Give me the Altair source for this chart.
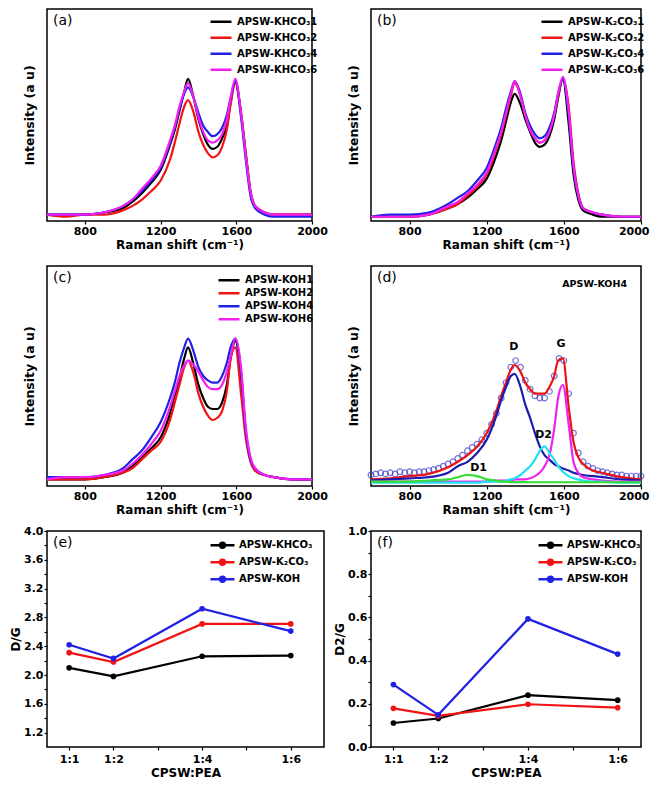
import altair as alt
import pandas as pd

FONT = "DejaVu Sans"

# ---------------- Raman spectra (x grid in cm^-1, intensity in % of plot height)
raman_x = [600, 700, 800, 900, 1000, 1050, 1100, 1150, 1200, 1250, 1275, 1300, 1325, 1345, 1375, 1400,
           1425, 1450, 1475, 1500, 1525, 1550, 1570, 1595, 1625, 1650, 1675, 1700, 1750, 1800, 1900, 2000]

a_names = ["APSW-KHCO₃1", "APSW-KHCO₃2", "APSW-KHCO₃4", "APSW-KHCO₃6"]
a_1 = [3, 3, 3, 4, 6, 9, 13, 18, 24, 36, 43, 52, 61, 67, 58, 48, 41, 36, 34, 35, 39, 45, 56, 66, 51, 32, 14, 7, 4, 3, 3, 3]
a_2 = [3, 2, 3, 3, 5, 7, 10, 14, 19, 29, 37, 46, 54, 57, 51, 42, 36, 32, 30, 31, 35, 43, 55, 65, 51, 32, 14, 7, 4, 3, 3, 3]
a_4 = [3, 3, 3, 4, 7, 10, 14, 19, 25, 37, 44, 53, 60, 63, 58, 51, 45, 42, 40, 41, 44, 50, 58, 66, 49, 29, 12, 6, 3, 2, 2, 2]
a_6 = [3, 3, 3, 4, 7, 10, 15, 20, 26, 38, 45, 54, 61, 65, 58, 49, 42, 38, 37, 38, 41, 48, 58, 67, 51, 31, 14, 7, 4, 3, 3, 3]

b_names = ["APSW-K₂CO₃1", "APSW-K₂CO₃2", "APSW-K₂CO₃4", "APSW-K₂CO₃6"]
b_1 = [2, 2, 2, 3, 6, 8, 11, 15, 20, 31, 38, 47, 56, 60, 55, 48, 42, 37, 35, 36, 40, 48, 58, 67, 46, 22, 10, 5, 3, 2, 2, 2]
b_2 = [2, 2, 2, 3, 6, 8, 12, 16, 22, 34, 41, 50, 59, 65, 59, 50, 43, 39, 37, 38, 42, 50, 59, 67, 54, 28, 13, 6, 4, 3, 2, 2]
b_4 = [2, 3, 3, 4, 8, 11, 14, 19, 25, 37, 44, 53, 61, 66, 60, 51, 45, 41, 39, 40, 44, 51, 60, 67, 50, 25, 12, 6, 4, 3, 2, 2]
b_6 = [2, 2, 2, 3, 7, 9, 13, 17, 23, 35, 42, 51, 60, 66, 59, 50, 43, 39, 37, 38, 42, 50, 60, 68, 52, 26, 12, 6, 4, 3, 2, 2]

c_names = ["APSW-KOH1", "APSW-KOH2", "APSW-KOH4", "APSW-KOH6"]
c_1 = [3, 3, 3, 4, 6, 9, 13, 17, 22, 33, 41, 49, 58, 63, 55, 46, 40, 36, 35, 35, 38, 46, 58, 66, 50, 24, 12, 7, 5, 4, 3, 3]
c_2 = [3, 3, 3, 4, 6, 8, 12, 16, 20, 30, 38, 46, 54, 57, 51, 42, 36, 32, 30, 31, 34, 43, 58, 63, 42, 22, 11, 7, 5, 4, 3, 3]
c_4 = [4, 4, 4, 5, 8, 12, 16, 22, 29, 40, 47, 56, 63, 67, 61, 54, 50, 48, 47, 47, 50, 56, 63, 67, 52, 25, 12, 8, 5, 4, 3, 3]
c_6 = [3, 4, 4, 5, 7, 10, 14, 19, 25, 36, 43, 50, 55, 57, 55, 52, 48, 45, 44, 44, 46, 52, 59, 67, 54, 27, 13, 8, 5, 4, 3, 3]

# ---------------- (d) peak fitting of APSW-KOH4
d_data_x = [600, 625, 650, 675, 700, 725, 750, 775, 800, 825, 850, 875, 900, 925, 950, 975, 1000, 1025,
            1050, 1075, 1100, 1125, 1150, 1175, 1200, 1225, 1250, 1275, 1300, 1325, 1350, 1375, 1400,
            1425, 1450, 1475, 1500, 1525, 1550, 1575, 1600, 1625, 1650, 1675, 1700, 1725, 1750, 1775,
            1800, 1825, 1850, 1875, 1900, 1925, 1950, 1975, 2000]
d_data = [5, 5.5, 6, 5.5, 6, 5.5, 6.5, 6, 6.5, 6, 6.5, 6.5, 7, 7.5, 8, 9, 10, 11, 12.5, 14, 16, 17.5, 19,
          21, 24, 28, 33, 40, 47, 54, 57, 54, 48, 44, 41, 40, 40, 43, 50, 58, 57, 42, 24, 15, 11, 9, 8, 7,
          6.5, 6, 5.5, 5, 5, 4.5, 4.5, 4.5, 4.5]
d_names = ["Fit", "D", "G", "D2", "D1"]
d_fit = [3, 3.5, 4.5, 5.5, 8.5, 11, 14, 18, 24, 34, 41, 47, 53, 55, 52, 47, 44, 42, 42, 42, 45, 50, 57, 58, 36, 20, 13, 10, 7, 6, 4, 3]
d_D = [2.5, 3, 3.5, 4, 6, 9, 11, 15, 21, 32, 39, 45, 50, 51, 45, 37, 31, 24, 18, 14, 12, 10, 9, 8, 7, 6, 5.5, 5, 4.5, 4, 3, 2.5]
d_G = [2, 2, 2, 2, 2, 2, 2, 2, 2, 2.5, 2.5, 2.5, 2.5, 3, 3, 3, 3.5, 4.5, 6, 9, 14, 26, 40, 46, 28, 11, 6, 4, 3, 2.5, 2, 2]
d_D2 = [1.5, 1.5, 1.5, 1.5, 1.5, 1.5, 1.5, 1.5, 2, 2, 2, 2.5, 3, 3.5, 5, 7, 9, 12, 16, 18, 15, 12, 9, 6.5, 4.5, 3.5, 3, 2.5, 2, 2, 1.5, 1.5]
d_D1 = [2, 2, 2, 2.5, 3, 4, 5, 4.5, 3, 2.5, 2, 2, 1.8, 1.8, 1.8, 1.8, 1.7, 1.7, 1.7, 1.7, 1.7, 1.7, 1.7, 1.7, 1.7, 1.7, 1.7, 1.7, 1.7, 1.7, 1.7, 1.7]
d_label_text = ["D", "G", "D2", "D1"]
d_label_x = [1340, 1585, 1495, 1158]
d_label_y = [63, 64.5, 23, 8]

# ---------------- (e), (f) intensity ratios
ratio_x = [1, 2, 4, 6]
ratio_names = ["APSW-KHCO₃", "APSW-K₂CO₃", "APSW-KOH"]
e_khco3 = [2.10, 1.98, 2.26, 2.27]
e_k2co3 = [2.31, 2.18, 2.71, 2.71]
e_koh = [2.42, 2.23, 2.92, 2.61]
f_khco3 = [0.111, 0.132, 0.240, 0.217]
f_k2co3 = [0.179, 0.144, 0.198, 0.182]
f_koh = [0.289, 0.149, 0.593, 0.430]

C4 = ["#000000", "#f01414", "#2020e6", "#f51ef5"]
C3 = ["#000000", "#f01414", "#2020e6"]


def long_df(x, names, series):
    recs = []
    for n, vals in zip(names, series):
        for xv, yv in zip(x, vals):
            recs.append({"x": xv, "v": yv, "series": n})
    return pd.DataFrame(recs)


def raman_x_enc(flush=False):
    ax = dict(values=[800, 1200, 1600, 2000], format="d", title="Raman shift (cm⁻¹)",
              tickSize=3, labelPadding=1, titlePadding=3)
    if flush:
        ax.update(labelFlush=True, labelFlushOffset=8)
    else:
        ax.update(labelFlush=False)
    return alt.X("x:Q", scale=alt.Scale(domain=[600, 2000], nice=False, zero=False), axis=alt.Axis(**ax))


def raman_y_enc():
    return alt.Y("v:Q", scale=alt.Scale(domain=[0, 100], nice=False),
                 axis=alt.Axis(title="Intensity (a u)", labels=False, ticks=False, titlePadding=11,
                               titleFontSize=12.5))


def tag_layer(tag):
    return alt.Chart(pd.DataFrame({"t": [tag]})).mark_text(
        align="left", baseline="top", font=FONT, fontSize=14, color="black"
    ).encode(text="t:N", x=alt.value(6), y=alt.value(5))


def spectra_panel(names, series, tag, w, h, lx, ly, clip, flush):
    df = long_df(raman_x, names, series)
    lines = alt.Chart(df).mark_line(strokeWidth=2.2, interpolate="monotone").encode(
        x=raman_x_enc(flush), y=raman_y_enc(),
        color=alt.Color("series:N", sort=names, scale=alt.Scale(domain=names, range=C4),
                        legend=alt.Legend(orient="none", legendX=lx, legendY=ly, title=None,
                                          symbolType="stroke", symbolSize=440, symbolStrokeWidth=2.5,
                                          labelFont=FONT, labelFontSize=10, labelFontWeight="bold",
                                          labelColor="black", labelOffset=4, rowPadding=0,
                                          clipHeight=clip, padding=0)),
    )
    return alt.layer(lines, tag_layer(tag)).properties(width=w, height=h)


pa = spectra_panel(a_names, [a_1, a_2, a_4, a_6], "(a)", 265, 212, 162, 5, 15.3, False)
pb = spectra_panel(b_names, [b_1, b_2, b_4, b_6], "(b)", 270, 212, 169, 5, 15.3, True)
pc = spectra_panel(c_names, [c_1, c_2, c_4, c_6], "(c)", 265, 220, 170, 8, 12.5, False)

# panel d
d_pts_df = pd.DataFrame({"x": d_data_x, "v": d_data})
d_fit_df = long_df(raman_x, d_names, [d_fit, d_D, d_G, d_D2, d_D1])
d_lab_df = pd.DataFrame({"x": d_label_x, "v": d_label_y, "t": d_label_text})
d_pts = alt.Chart(d_pts_df).mark_point(shape="circle", filled=False, size=32, strokeWidth=1.2,
                                        color="#3838d0").encode(x=raman_x_enc(True), y=raman_y_enc())
d_lines = alt.Chart(d_fit_df).mark_line(strokeWidth=2.2, interpolate="monotone").encode(
    x=raman_x_enc(True), y=raman_y_enc(),
    color=alt.Color("series:N", sort=d_names,
                    scale=alt.Scale(domain=d_names, range=["#ee1111", "#1c1cb0", "#ee22ee", "#22e0f2", "#33dd33"]),
                    legend=None))
d_labels = alt.Chart(d_lab_df).mark_text(font=FONT, fontSize=11, fontWeight="bold", color="black",
                                          baseline="middle").encode(x=raman_x_enc(True), y=raman_y_enc(), text="t:N")
d_name = alt.Chart(pd.DataFrame({"t": ["APSW-KOH4"]})).mark_text(
    align="right", baseline="middle", font=FONT, fontSize=9.5, fontWeight="bold", color="black"
).encode(text="t:N", x=alt.value(256), y=alt.value(18))
pd_ = alt.layer(d_pts, d_lines, d_labels, d_name, tag_layer("(d)")).properties(width=270, height=220)

LINE_DOT = "M-1,0H1M-0.2,0A0.2,0.2,0,1,0,0.2,0A0.2,0.2,0,1,0,-0.2,0"


def ratio_panel(series, tag, ytitle, ydom, yvals, ylabexpr, xmax, w, h, lx):
    df = long_df(ratio_x, ratio_names, series)
    lines = alt.Chart(df).mark_line(strokeWidth=2.2, point=alt.OverlayMarkDef(filled=True, size=32)).encode(
        x=alt.X("x:Q", scale=alt.Scale(domain=[0.5, xmax], nice=False, zero=False),
                axis=alt.Axis(values=[1, 2, 3, 4, 5, 6], title="CPSW:PEA", labelFlush=False,
                              labelExpr="datum.value==1?'1:1':datum.value==2?'1:2':datum.value==4?'1:4':datum.value==6?'1:6':''",
                              tickSize=3, labelPadding=3, titlePadding=3)),
        y=alt.Y("v:Q", scale=alt.Scale(domain=ydom, nice=False, zero=False),
                axis=alt.Axis(values=yvals, title=ytitle, labelExpr=ylabexpr, labelFlush=False,
                              tickSize=3, labelPadding=1, titlePadding=1)),
        color=alt.Color("series:N", sort=ratio_names, scale=alt.Scale(domain=ratio_names, range=C3),
                        legend=alt.Legend(orient="none", legendX=lx, legendY=6, title=None,
                                          symbolType=LINE_DOT, symbolSize=576, symbolStrokeWidth=2.5,
                                          labelFont=FONT, labelFontSize=10, labelFontWeight="bold",
                                          labelColor="black", labelOffset=3, rowPadding=0,
                                          clipHeight=16.5, padding=0)),
    )
    return alt.layer(lines, tag_layer(tag)).properties(width=w, height=h)


e_vals = [1.2, 1.4, 1.6, 1.8, 2.0, 2.2, 2.4, 2.6, 2.8, 3.0, 3.2, 3.4, 3.6, 3.8, 4.0]
f_vals = [0.0, 0.1, 0.2, 0.3, 0.4, 0.5, 0.6, 0.7, 0.8, 0.9, 1.0]
pe = ratio_panel([e_khco3, e_k2co3, e_koh], "(e)", "D/G", [1.0, 4.0], e_vals,
                 "round(datum.value*10)%4==0 ? format(datum.value,'.1f') : ''", 6.75, 277, 216, 162)
pf = ratio_panel([f_khco3, f_k2co3, f_koh], "(f)", "D2/G", [0.0, 1.0], f_vals,
                 "round(datum.value*10)%2==0 ? format(datum.value,'.1f') : ''", 6.52, 270, 216, 166)

chart = alt.concat(pa, pb, pc, pd_, pe, pf, columns=2, spacing={"row": 45, "column": 47},
                   bounds="flush").resolve_scale(color="independent").resolve_legend(
    color="independent").properties(
    padding={"left": 0, "top": 0, "right": 0, "bottom": 0}).configure_view(
    stroke="black", strokeWidth=1.5
).configure_axis(
    labelFont=FONT, labelFontWeight="bold", labelFontSize=11, labelColor="black",
    titleFont=FONT, titleFontWeight="bold", titleFontSize=12, titleColor="black",
    domain=False, grid=False, tickColor="black", tickWidth=1.2
)

chart.save("out.html", embed_options={"renderer": "svg", "actions": False})
